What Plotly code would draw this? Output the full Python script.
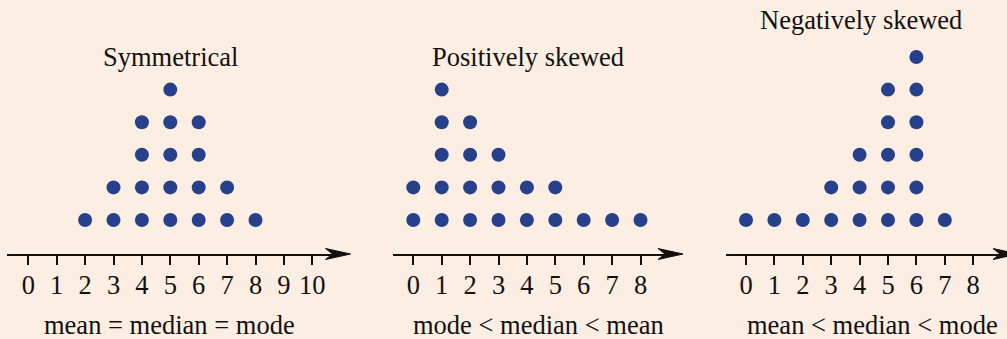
import plotly.graph_objects as go

# ---- data ----
sym_values = [2, 3, 4, 5, 6, 7, 8]
sym_counts = [1, 2, 4, 5, 4, 2, 1]
pos_values = [0, 1, 2, 3, 4, 5, 6, 7, 8]
pos_counts = [2, 5, 4, 3, 2, 2, 1, 1, 1]
neg_values = [0, 1, 2, 3, 4, 5, 6, 7]
neg_counts = [1, 1, 1, 2, 3, 5, 6, 1]

titles = ["Symmetrical", "Positively skewed", "Negatively skewed"]
captions = ["mean = median = mode", "mode < median < mean", "mean < median < mode"]
tick_sets = [list(range(0, 11)), list(range(0, 9)), list(range(0, 9))]

# ---- layout constants (pixels) ----
W, H = 1007, 339
BG = "#FDEEE3"
DOT = "#26408B"
INK = "#111111"
FONT = "Liberation Serif"
FS = 26.5
STEP = 28.4                      # px per unit on x
zero_px = [28.3, 413.3, 746.0]   # pixel of value 0 per panel
line_px = [(7, 340), (393, 673), (726, 1007)]
tip_px = [350.5, 683.0, 1018.0]
axis_y_px = 254
title_pos = [(170, 57), (528, 57), (861, 20)]
caption_pos = [(169, 325), (538, 325), (872, 325)]

# y (stack level) scale: level k at px 252.6 - 32.6*k
LVL0, LVLSTEP = 252.6, 32.6
y_lo = (LVL0 - axis_y_px) / LVLSTEP
y_hi = LVL0 / LVLSTEP

fig = go.Figure()
datasets = [(sym_values, sym_counts), (pos_values, pos_counts), (neg_values, neg_counts)]
shapes, annotations = [], []
for i, (vals, cnts) in enumerate(datasets):
    xs, ys = [], []
    for v, c in zip(vals, cnts):
        for k in range(1, c + 1):
            xs.append(v)
            ys.append(k)
    sfx = "" if i == 0 else str(i + 1)
    fig.add_trace(go.Scatter(
        x=xs, y=ys, mode="markers", xaxis="x" + sfx, yaxis="y" + sfx,
        marker=dict(size=14, color=DOT, line=dict(width=0)),
        cliponaxis=False, showlegend=False, hoverinfo="x+y"))

    a, b = line_px[i]
    xr = [(a - zero_px[i]) / STEP, (b - zero_px[i]) / STEP]
    fig.layout["xaxis" + sfx] = dict(
        domain=[a / W, b / W], range=xr, showgrid=False, zeroline=False,
        showline=True, linecolor=INK, linewidth=1.5,
        ticks="outside", ticklen=9, tickwidth=1.5, tickcolor=INK,
        tickvals=tick_sets[i], ticktext=[str(t) for t in tick_sets[i]],
        tickfont=dict(family=FONT, size=FS, color=INK), ticklabelstandoff=-3,
        anchor="y" + sfx, fixedrange=True)
    fig.layout["yaxis" + sfx] = dict(
        domain=[1 - axis_y_px / H, 1], range=[y_lo, y_hi], visible=False,
        anchor="x" + sfx, fixedrange=True)

    # arrowhead at the end of the axis line
    shapes.append(dict(
        type="path", xref="paper", yref="paper",
        xsizemode="pixel", ysizemode="pixel",
        xanchor=tip_px[i] / W, yanchor=1 - axis_y_px / H,
        path="M 0,0 L -25,5.5 L -18,0 L -25,-5.5 Z",
        fillcolor=INK, line=dict(color=INK, width=1)))

    tx, ty = title_pos[i]
    annotations.append(dict(text=titles[i], x=tx / W, y=1 - ty / H, xref="paper", yref="paper",
                            xanchor="center", yanchor="middle", showarrow=False,
                            font=dict(family=FONT, size=FS, color=INK)))
    cx, cy = caption_pos[i]
    annotations.append(dict(text=captions[i], x=cx / W, y=1 - cy / H, xref="paper", yref="paper",
                            xanchor="center", yanchor="middle", showarrow=False,
                            font=dict(family=FONT, size=FS, color=INK)))

fig.update_layout(
    width=W, height=H, margin=dict(l=0, r=0, t=0, b=0),
    paper_bgcolor=BG, plot_bgcolor=BG,
    shapes=shapes, annotations=annotations, showlegend=False)

fig.write_html("out.html", config={"displayModeBar": False},
               post_script="document.body.style.margin='0';document.body.style.padding='0';"
                           "document.documentElement.style.background='" + BG + "';")
